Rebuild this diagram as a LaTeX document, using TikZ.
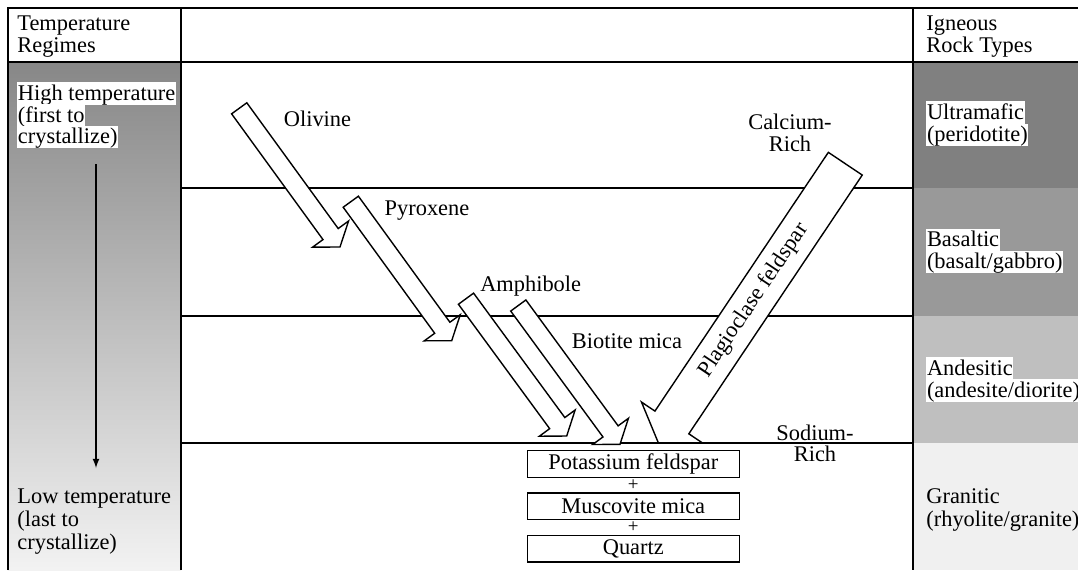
\documentclass[tikz,border=0pt]{standalone}
\usepackage{fontspec}
\setmainfont{Liberation Serif}
\usetikzlibrary{calc,positioning}

\definecolor{ultra}{gray}{0.5}
\definecolor{basalt}{gray}{0.6}
\definecolor{andes}{gray}{0.75}
\definecolor{gran}{gray}{0.94}

\newcommand\blockarrow[5]{%
  \coordinate (hb) at ($(#2)!#5!(#1)$);
  \filldraw[arrowbox] ($(#1)!#3!90:(#2)$) -- ($(hb)!#3!90:(#2)$) -- ($(hb)!#4!90:(#2)$) -- (#2)
    -- ($(hb)!#4!-90:(#2)$) -- ($(hb)!#3!-90:(#2)$) -- ($(#1)!#3!-90:(#2)$) -- cycle;}

\tikzset{
  arrowbox/.style={fill=white, draw=black, line width=0.7pt},
  lbl/.style={inner sep=0pt, anchor=base west},
  hl/.style={lbl, fill=white, text height=9pt, text depth=2.4pt, inner xsep=0.3pt},
  mineral/.style={draw, line width=0.7pt, minimum width=106pt, minimum height=13.3pt, inner sep=0pt},
  plus/.style={inner sep=0pt, font=\fontsize{9.5pt}{9.5pt}\selectfont},
  frame/.style={line width=0.9pt}
}

\begin{document}
\begin{tikzpicture}[x=0.5pt, y=-0.5pt, font=\fontsize{11.2pt}{10.8pt}\selectfont]
    \useasboundingbox (0,0) rectangle (1078,570);
    \shade[top color=black!47, bottom color=black!5] (8,62) rectangle (181,570);
    \fill[ultra] (913,62) rectangle (1078,188);
    \fill[basalt] (913,188) rectangle (1078,316);
    \fill[andes] (913,316) rectangle (1078,443);
    \fill[gran] (913,443) rectangle (1078,570);
    \draw[frame] (8,570) -- (8,8) -- (1078,8);
    \draw[frame] (8,62) -- (1078,62);
    \draw[frame] (181,8) -- (181,570);
    \draw[frame] (913,8) -- (913,570);
    \foreach \y in {188,316,443}
        \draw[line width=0.8pt] (181,\y) -- (913,\y);
    \coordinate (hi) at (96,164);
    \coordinate (lo) at (96,468);
    \draw[-latex, line width=0.6pt] (hi) -- (lo);

    \coordinate (ol1) at (239.2,108.3);
    \coordinate (ol2) at (340,247);
    \coordinate (py1) at (350.8,201.7);
    \coordinate (py2) at (451.7,340.7);
    \coordinate (am1) at (466,298.7);
    \coordinate (am2) at (566.7,436);
    \coordinate (bi1) at (518.3,305.5);
    \coordinate (bi2) at (620,444.3);
    \coordinate (pg1) at (845.3,163.7);
    \coordinate (pg2) at (658.3,442.7);
    \blockarrow{ol1}{ol2}{4.7pt}{11.1pt}{8pt}
    \blockarrow{py1}{py2}{4.7pt}{11.1pt}{8pt}
    \blockarrow{am1}{am2}{4.7pt}{11.1pt}{8pt}
    \blockarrow{bi1}{bi2}{4.7pt}{11.1pt}{8pt}
    \blockarrow{pg1}{pg2}{10.2pt}{18.3pt}{12.2pt}
    \node[rotate=56.2] (pgt) at ($(pg1)!0.49!(pg2)$) {Plagioclase feldspar};

    \node[mineral] (kf) at (633.3,464) {Potassium feldspar};
    \node[mineral, below=7.2pt of kf] (mu) {Muscovite mica};
    \node[mineral, below=7.2pt of mu] (qz) {Quartz};
    \node[plus] (plus1) at ($(kf.south)!0.5!(mu.north)$) {+};
    \node[plus] (plus2) at ($(mu.south)!0.5!(qz.north)$) {+};

    \node[lbl] (tr1) at (17,30) {Temperature};
    \node[lbl] (tr2) at (17,52) {Regimes};
    \node[lbl] (ig1) at (926,30) {Igneous};
    \node[lbl] (ig2) at (926,52) {Rock Types};
    \node[hl] (ht1) at (17,100) {High temperature};
    \node[hl] (ht2) at (17,122) {(first to};
    \node[hl] (ht3) at (17,143.5) {crystallize)};
    \node[lbl] (lt1) at (17,503.5) {Low temperature};
    \node[lbl] (lt2) at (17,526.5) {(last to};
    \node[lbl] (lt3) at (17,549.5) {crystallize)};
    \node[hl] (um1) at (926,119) {Ultramafic};
    \node[hl] (um2) at (926,141.5) {(peridotite)};
    \node[hl] (bs1) at (926,246.5) {Basaltic\ };
    \node[hl] (bs2) at (926,268.5) {(basalt/gabbro)};
    \node[hl] (an1) at (926,375) {Andesitic\ };
    \node[hl] (an2) at (926,397) {(andesite/diorite)};
    \node[lbl] (gr1) at (926,503.5) {Granitic};
    \node[lbl] (gr2) at (926,526.5) {(rhyolite/granite)};

    \node[lbl, anchor=base] (olv) at (317.5,126.5) {Olivine};
    \node[lbl, anchor=base] (pyx) at (427,215) {Pyroxene};
    \node[lbl, anchor=base] (amp) at (530.7,291.5) {Amphibole};
    \node[lbl, anchor=base] (bio) at (627,348) {Biotite mica};
    \node[lbl, anchor=base] (ca1) at (790,129.5) {Calcium-};
    \node[lbl, anchor=base] (ca2) at (790,151.5) {Rich};
    \node[lbl, anchor=base] (na1) at (815,440) {Sodium-};
    \node[lbl, anchor=base] (na2) at (815,461.5) {Rich};
\end{tikzpicture}
\end{document}
